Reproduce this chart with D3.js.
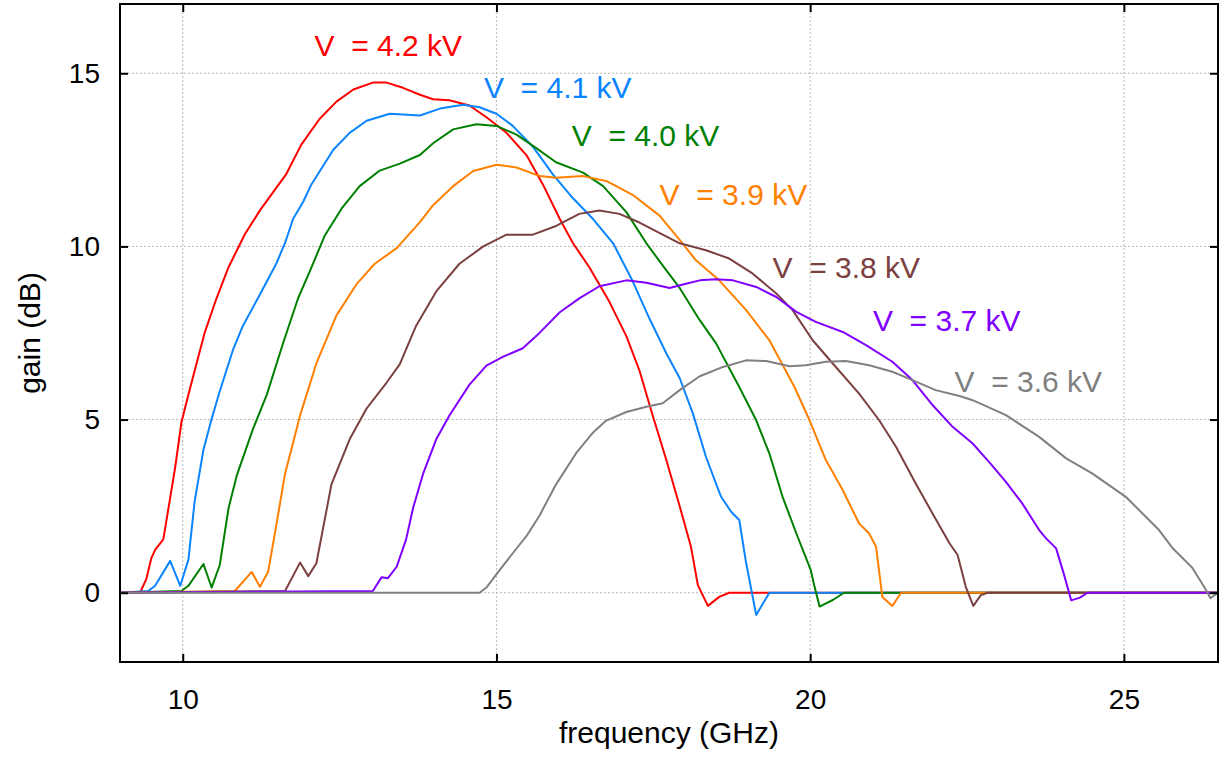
<!DOCTYPE html>
<html>
<head>
<meta charset="utf-8">
<script src="https://cdn.jsdelivr.net/npm/d3@7"></script>
<style>
  body { margin: 0; background: #fff; }
  text { font-family: Arial, "Liberation Sans", sans-serif; }
</style>
</head>
<body>
<div id="chart"></div>
<script>
// gain curves, [frequency GHz, gain dB]
const v42 = [[9,0],[9.32,0],[9.42,0.4],[9.5,1.0],[9.56,1.24],[9.69,1.54],[9.8,2.74],[9.88,3.63],[9.98,4.93],[10.09,5.72],[10.22,6.62],[10.35,7.51],[10.54,8.51],[10.73,9.4],[10.99,10.35],[11.23,11.04],[11.47,11.64],[11.65,12.09],[11.89,12.94],[12.18,13.68],[12.45,14.18],[12.72,14.53],[13.03,14.73],[13.25,14.73],[13.51,14.58],[13.78,14.38],[13.99,14.25],[14.25,14.22],[14.57,14.07],[14.84,13.73],[15.16,13.28],[15.48,12.63],[15.74,11.79],[16.01,10.79],[16.22,10.09],[16.48,9.4],[16.8,8.4],[17.07,7.41],[17.28,6.41],[17.49,5.12],[17.71,3.82],[17.92,2.5],[18.1,1.33],[18.21,0.22],[18.37,-0.38],[18.55,-0.12],[18.71,0],[26.5,0]];
const v41 = [[9,0],[9.45,0.05],[9.56,0.2],[9.8,0.92],[9.96,0.2],[10.09,0.95],[10.19,2.64],[10.33,4.13],[10.46,5.02],[10.59,5.82],[10.8,7.01],[10.96,7.71],[11.23,8.61],[11.49,9.5],[11.63,10.1],[11.76,10.8],[11.92,11.29],[12.05,11.79],[12.4,12.79],[12.66,13.28],[12.93,13.63],[13.3,13.83],[13.78,13.78],[14.1,13.98],[14.47,14.09],[14.73,14.02],[15,13.83],[15.26,13.48],[15.58,12.88],[15.9,12.08],[16.22,11.39],[16.54,10.79],[16.86,10.09],[17.17,9],[17.44,7.91],[17.71,6.9],[17.92,6.2],[18.13,5.18],[18.34,3.92],[18.58,2.77],[18.74,2.34],[18.87,2.1],[18.98,0.85],[19.14,-0.64],[19.35,0],[26.5,0]];
const v40 = [[9,0],[9.98,0.05],[10.09,0.2],[10.33,0.83],[10.46,0.15],[10.59,0.8],[10.73,2.44],[10.86,3.38],[11.12,4.73],[11.34,5.72],[11.6,7.21],[11.84,8.51],[12.03,9.3],[12.26,10.3],[12.53,11.09],[12.82,11.74],[13.14,12.19],[13.46,12.39],[13.78,12.64],[13.99,12.98],[14.31,13.38],[14.68,13.53],[15,13.48],[15.32,13.23],[15.64,12.83],[15.95,12.43],[16.38,12.13],[16.7,11.74],[17.07,10.99],[17.39,10.09],[17.71,9.3],[17.92,8.8],[18.24,7.87],[18.5,7.2],[18.87,5.94],[19.14,4.98],[19.35,4.02],[19.56,2.77],[19.78,1.71],[20.01,0.65],[20.07,0.17],[20.15,-0.4],[20.36,-0.21],[20.54,0],[26.5,0]];
const v39 = [[9,0],[10.83,0.05],[11.1,0.6],[11.23,0.17],[11.36,0.6],[11.49,1.94],[11.63,3.43],[11.87,5.12],[12.13,6.62],[12.45,8.01],[12.77,8.91],[13.06,9.5],[13.41,9.95],[13.78,10.7],[13.99,11.19],[14.31,11.74],[14.63,12.18],[15,12.36],[15.32,12.28],[15.69,12.03],[15.95,11.98],[16.38,12.03],[16.75,11.89],[17.17,11.49],[17.6,10.89],[17.92,10.19],[18.18,9.6],[18.55,9.02],[18.98,8.16],[19.35,7.29],[19.75,5.94],[19.99,4.98],[20.25,3.83],[20.52,2.96],[20.78,2],[20.94,1.71],[21.05,1.33],[21.15,-0.12],[21.31,-0.38],[21.45,0],[26.5,0]];
const v38 = [[9,0],[11.63,0.05],[11.87,0.87],[12,0.48],[12.13,0.85],[12.37,3.13],[12.66,4.43],[12.93,5.32],[13.25,6.07],[13.46,6.6],[13.72,7.71],[14.04,8.7],[14.41,9.5],[14.79,10],[15.16,10.34],[15.58,10.34],[15.95,10.59],[16.32,10.94],[16.64,11.04],[16.96,10.94],[17.28,10.69],[17.65,10.34],[17.92,10.09],[18.34,9.89],[18.71,9.65],[19.08,9.22],[19.46,8.64],[19.72,8.16],[20.04,7.29],[20.36,6.62],[20.78,5.75],[21.1,4.98],[21.37,4.21],[21.68,3.16],[21.95,2.29],[22.22,1.43],[22.35,1.09],[22.48,0.17],[22.6,-0.38],[22.72,-0.07],[22.83,0],[26.5,0]];
const v37 = [[9,0],[13.03,0.05],[13.17,0.45],[13.27,0.42],[13.41,0.75],[13.56,1.54],[13.67,2.44],[13.83,3.43],[14.04,4.43],[14.25,5.12],[14.57,6.01],[14.84,6.56],[15.1,6.81],[15.42,7.06],[15.69,7.51],[16.01,8.1],[16.32,8.5],[16.64,8.85],[17.07,9.02],[17.39,8.95],[17.76,8.8],[18.02,8.92],[18.24,9.02],[18.5,9.05],[18.77,9.02],[19.14,8.83],[19.46,8.54],[19.78,8.11],[20.09,7.82],[20.52,7.53],[20.89,7.15],[21.31,6.67],[21.63,6.14],[21.95,5.42],[22.27,4.79],[22.59,4.31],[22.85,3.78],[23.12,3.2],[23.38,2.58],[23.65,1.81],[23.76,1.57],[23.92,1.28],[24.04,0.56],[24.16,-0.22],[24.3,-0.14],[24.42,0],[26.5,0]];
const v36 = [[9,0],[14.73,0],[14.84,0.15],[15.05,0.65],[15.26,1.14],[15.48,1.64],[15.69,2.24],[15.95,3.13],[16.27,4.03],[16.54,4.63],[16.75,4.97],[17.07,5.22],[17.39,5.37],[17.65,5.47],[17.92,5.85],[18.24,6.25],[18.61,6.52],[18.98,6.71],[19.3,6.69],[19.67,6.54],[19.93,6.57],[20.25,6.67],[20.57,6.69],[20.94,6.57],[21.31,6.38],[21.63,6.14],[22,5.85],[22.38,5.68],[22.59,5.56],[23.12,5.13],[23.65,4.5],[24.08,3.88],[24.5,3.44],[25.03,2.77],[25.56,1.81],[25.77,1.3],[26.09,0.72],[26.31,0.08],[26.38,-0.16],[26.5,0]];

const seriesData = [v42, v41, v40, v39, v38, v37, v36];
const labels = ["V  = 4.2 kV", "V  = 4.1 kV", "V  = 4.0 kV", "V  = 3.9 kV", "V  = 3.8 kV", "V  = 3.7 kV", "V  = 3.6 kV"];
const colors = ["#ff0000", "#0a84ff", "#008000", "#ff8000", "#7b4040", "#8000ff", "#808080"];
// where each label sits (frequency, gain at baseline)
const labelFreq = [12.1, 14.8, 16.2, 17.6, 19.4, 21.0, 22.3];
const labelGain = [15.5, 14.3, 12.9, 11.2, 9.1, 7.55, 5.8];

const xTicks = [10, 15, 20, 25];
const yTicks = [0, 5, 10, 15];

const W = 1228, H = 770;
const mLeft = 120, mRight = 1218, mTop = 4, mBottom = 662;

const svg = d3.select("#chart").append("svg")
    .attr("width", W)
    .attr("height", H);

const x = d3.scaleLinear().domain([9, 26.5]).range([mLeft, mRight]);
const y = d3.scaleLinear().domain([-2, 17]).range([mBottom, mTop]);

svg.append("defs").append("clipPath").attr("id", "clip")
  .append("rect")
    .attr("x", mLeft).attr("y", mTop)
    .attr("width", mRight - mLeft).attr("height", mBottom - mTop);

// dotted grid
const grid = svg.append("g").attr("class", "grid");
grid.selectAll(".gx").data(xTicks).enter().append("line")
    .attr("x1", d => x(d)).attr("x2", d => x(d))
    .attr("y1", mTop).attr("y2", mBottom);
grid.selectAll(".gy").data(yTicks).enter().append("line")
    .attr("x1", mLeft).attr("x2", mRight)
    .attr("y1", d => y(d)).attr("y2", d => y(d));
grid.selectAll("line")
    .attr("stroke", "#b8b8b8")
    .attr("stroke-width", 1)
    .attr("stroke-dasharray", "2,2");

// curves
const line = d3.line().x(d => x(d[0])).y(d => y(d[1]));
svg.append("g").attr("clip-path", "url(#clip)")
  .selectAll("path").data(seriesData).enter().append("path")
    .attr("d", line)
    .attr("fill", "none")
    .attr("stroke", (d, i) => colors[i])
    .attr("stroke-width", 2)
    .attr("stroke-linejoin", "round");

// axes, ticks pointing inward
const tick = 8;
svg.append("g")
    .attr("transform", `translate(0,${mBottom})`)
    .call(d3.axisBottom(x).tickValues(xTicks).tickSizeInner(-tick).tickSizeOuter(0).tickPadding(27))
    .call(g => g.selectAll("text").attr("font-size", 28));
svg.append("g")
    .attr("transform", `translate(0,${mTop})`)
    .call(d3.axisTop(x).tickValues(xTicks).tickSizeInner(-tick).tickSizeOuter(0).tickFormat(""));
svg.append("g")
    .attr("transform", `translate(${mLeft},0)`)
    .call(d3.axisLeft(y).tickValues(yTicks).tickSizeInner(-tick).tickSizeOuter(0).tickPadding(20))
    .call(g => g.selectAll("text").attr("font-size", 28));
svg.append("g")
    .attr("transform", `translate(${mRight},0)`)
    .call(d3.axisRight(y).tickValues(yTicks).tickSizeInner(-tick).tickSizeOuter(0).tickFormat(""));

svg.selectAll(".domain").remove();
svg.selectAll(".tick line").attr("stroke", "#000").attr("stroke-width", 2);
svg.selectAll(".tick text").attr("fill", "#000").style("font-family", "Arial, 'Liberation Sans', sans-serif");

// frame
svg.append("rect")
    .attr("x", mLeft).attr("y", mTop)
    .attr("width", mRight - mLeft).attr("height", mBottom - mTop)
    .attr("fill", "none")
    .attr("stroke", "#000")
    .attr("stroke-width", 2);

// curve labels
svg.selectAll(".vlabel").data(labels).enter().append("text")
    .attr("class", "vlabel")
    .attr("x", (d, i) => x(labelFreq[i]))
    .attr("y", (d, i) => y(labelGain[i]))
    .attr("fill", (d, i) => colors[i])
    .attr("font-size", 30)
    .style("white-space", "pre")
    .text(d => d);

// axis titles
svg.append("text")
    .attr("x", (mLeft + mRight) / 2)
    .attr("y", 743)
    .attr("text-anchor", "middle")
    .attr("font-size", 30)
    .text("frequency (GHz)");
svg.append("text")
    .attr("transform", `translate(40,${(mTop + mBottom) / 2}) rotate(-90)`)
    .attr("text-anchor", "middle")
    .attr("font-size", 30)
    .text("gain (dB)");
</script>
</body>
</html>
